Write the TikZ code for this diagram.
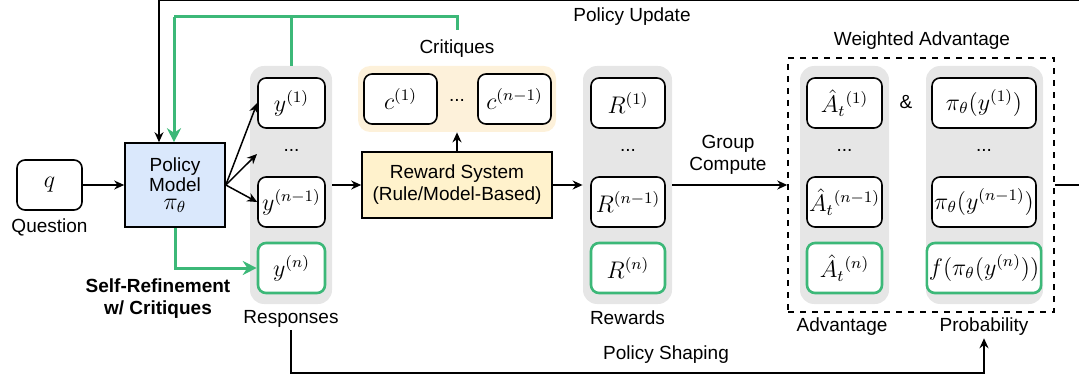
\documentclass[tikz,border=0pt]{standalone}
\usepackage{fontspec}
\setmainfont{Liberation Sans}
\usetikzlibrary{arrows.meta, positioning}

\definecolor{critgreen}{HTML}{3CB878}
\definecolor{colgray}{HTML}{E6E6E6}
\definecolor{policyblue}{HTML}{DAE8FC}
\definecolor{rewardyellow}{HTML}{FFF2CC}
\definecolor{critbg}{HTML}{FDF1DA}

\tikzset{
    item/.style = {draw, rounded corners=4pt, fill=white, line width=0.8pt,
        minimum height=25pt, inner sep=1pt, font=\fontsize{11.5}{13}\selectfont},
    lastitem/.style = {item, draw=critgreen, line width=1.3pt},
    column/.style = {fill=colgray, rounded corners=7pt, minimum width=#1, minimum height=119pt},
    txt/.style = {font=\fontsize{9.5}{11}\selectfont, align=center, inner sep=1pt},
    flow/.style = {-{Stealth[length=5pt, width=4.5pt]}, line width=0.75pt},
    refine/.style = {-{Stealth[length=7pt, width=7pt]}, line width=1.5pt, draw=critgreen}
}

\begin{document}
\begin{tikzpicture}[x=0.5pt, y=-0.5pt, node distance = 2pt]
    \clip (0,0) rectangle (1079,379);

    % background groups
    \node (respcol) [column=41pt] at (291,185) {};
    \node (rewcol) [column=44.5pt] at (627.5,185) {};
    \node (advcol) [column=44.5pt] at (844.5,185) {};
    \node (probcol) [column=58.5pt] at (984.5,185) {};
    \node (critgrp) [fill=critbg, rounded corners=6pt, minimum width=99pt, minimum height=33pt] at (457,99) {};
    \node (wadv) [draw, dashed, line width=0.75pt, minimum width=133pt, minimum height=127pt] at (921,185) {};

    % question and policy
    \node (q) [item, minimum width=32.5pt] at (49.5,185) {$q$};
    \node (question) [txt, below=3pt of q] {Question};
    \node (policy) [draw, fill=policyblue, line width=0.8pt, minimum width=50pt, minimum height=42pt,
        txt, inner sep=0pt] at (175,185) {Policy\\[-1pt]Model\\[-2pt]{\fontsize{12}{13}\selectfont$\pi_\theta$}};
    \node (selfref) [txt, font=\fontsize{9.5}{11}\selectfont\bfseries] at (158,299) {Self-Refinement\\w/ Critiques};

    % responses
    \node (y1) [item, minimum width=33.5pt] at (291.5,103) {$y^{(1)}$};
    \node (ydots) [txt] at (291.5,150) {...};
    \node (yn1) [item, minimum width=33.5pt] at (291.5,202) {$y^{(n-1)}$};
    \node (yn) [lastitem, minimum width=33.5pt] at (291.5,268) {$y^{(n)}$};
    \node (responses) [txt, below=of respcol] {Responses};

    % reward system and critiques
    \node (reward) [draw, fill=rewardyellow, line width=0.8pt, minimum width=95pt, minimum height=33pt,
        txt] at (457,185) {Reward System\\(Rule/Model-Based)};
    \node (c1) [item, minimum width=36.5pt] at (400.5,99) {$c^{(1)}$};
    \node (cdots) [txt] at (457,100) {...};
    \node (cn1) [item, minimum width=36.5pt] at (514.5,99) {$c^{(n-1)}$};
    \node (critiques) [txt] at (457,49) {Critiques};

    % rewards
    \node (r1) [item, minimum width=37pt] at (628,103) {$R^{(1)}$};
    \node (rdots) [txt] at (628,150) {...};
    \node (rn1) [item, minimum width=37pt] at (628,202) {$R^{(n-1)}$};
    \node (rn) [lastitem, minimum width=37pt] at (628,268) {$R^{(n)}$};
    \node (rewards) [txt, below=of rewcol] {Rewards};

    % weighted advantage
    \node (a1) [item, minimum width=37.5pt] at (844.5,103) {${\hat{A}_t}{}^{(1)}$};
    \node (adots) [txt] at (844.5,150) {...};
    \node (an1) [item, minimum width=37.5pt] at (844.5,202) {${\hat{A}_t}{}^{(n-1)}$};
    \node (an) [lastitem, minimum width=37.5pt] at (844.5,268) {${\hat{A}_t}{}^{(n)}$};
    \node (amp) [txt] at (906,102) {\&};
    \node (p1) [item, minimum width=52pt] at (984,103) {$\pi_\theta(y^{(1)})$};
    \node (pdots) [txt] at (984,150) {...};
    \node (pn1) [item, minimum width=52pt] at (984,202) {$\pi_\theta(y^{(n-1)})$};
    \node (pn) [lastitem, minimum width=52pt] at (984,268) {$f(\pi_\theta(y^{(n)}))$};
    \node (weighted) [txt] at (922,41) {Weighted Advantage};
    \node (advantage) [txt] at (842,327) {Advantage};
    \node (probability) [txt] at (984,327) {Probability};

    \node (update) [txt] at (632,17) {Policy Update};
    \node (shaping) [txt] at (666,355) {Policy Shaping};
    \node (group) [txt] at (728,155) {Group\\Compute};

    \coordinate (dotstip) at (257,154);
    \coordinate (upright) at (1100,0);
    \coordinate (upleft) at (159,0);
    \coordinate (greenleft) at (174,17);
    \coordinate (greenright) at (457,17);
    \coordinate (critgreen) at (457,30);
    \coordinate (shapeleft) at (291,373);

    % connectors
    \draw [flow] (q) -- (policy);
    \draw [flow] (policy.east) -- (y1.west);
    \draw [flow] (policy.east) -- (dotstip);
    \draw [flow] (policy.east) -- (yn1.west);
    \draw [flow] (respcol.east) -- (reward.west);
    \draw [flow] (reward.east) -- (rewcol.west);
    \draw [flow] (reward.north) -- (critgrp.south);
    \draw [flow] (rewcol.east) -- (wadv.west);
    \draw [flow] (wadv.east) -| (upright) -- (upleft) -- (upleft |- policy.north);
    \draw [flow] (responses.south) -- (shapeleft) -| (probability.south);

    \draw [refine] (policy.south) |- (yn.west);
    \draw [line width=1.5pt, critgreen] (critgreen) -- (greenright) -- (greenleft |- greenright);
    \draw [line width=1.5pt, critgreen] (respcol.north) -- (respcol.north |- greenright);
    \draw [refine] (greenleft) -- (greenleft |- policy.north);
\end{tikzpicture}
\end{document}
